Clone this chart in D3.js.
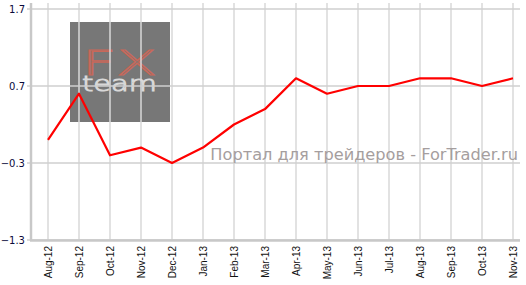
<!DOCTYPE html>
<html>
<head>
<meta charset="utf-8">
<script src="https://cdn.jsdelivr.net/npm/d3@7"></script>
<style>
  body { margin: 0; background: #fff; }
  svg { display: block; }
</style>
</head>
<body>
<div id="viz"></div>
<script>
const months = ['Aug-12', 'Sep-12', 'Oct-12', 'Nov-12', 'Dec-12', 'Jan-13', 'Feb-13', 'Mar-13',
  'Apr-13', 'May-13', 'Jun-13', 'Jul-13', 'Aug-13', 'Sep-13', 'Oct-13', 'Nov-13'];
const values = [0.0, 0.6, -0.2, -0.1, -0.3, -0.1, 0.2, 0.4, 0.8, 0.6, 0.7, 0.7, 0.8, 0.8, 0.7, 0.8];
const yTicks = [-1.3, -0.3, 0.7, 1.7];

const width = 526;
const height = 285;

const svg = d3.select('#viz')
  .append('svg')
  .attr('width', width)
  .attr('height', height);

const x = d3.scalePoint().domain(months).range([48, 513]);
const y = d3.scaleLinear().domain([-1.3, 1.7]).range([240, 9]);

// watermark logo (under the grid)
const logo = svg.append('g');
logo.append('rect')
  .attr('x', 70).attr('y', 22).attr('width', 100).attr('height', 100)
  .style('fill', '#777');
logo.append('text')
  .attr('x', 82).attr('y', 75)
  .attr('textLength', 75)
  .attr('lengthAdjust', 'spacingAndGlyphs')
  .style('font-family', 'DejaVu Sans, sans-serif')
  .style('font-size', '33px')
  .style('font-weight', '200')
  .style('fill', 'none')
  .style('stroke', '#c8685a')
  .style('stroke-width', 1.1)
  .text('FX');
logo.append('text')
  .attr('x', 82).attr('y', 91)
  .attr('textLength', 75)
  .attr('lengthAdjust', 'spacingAndGlyphs')
  .style('font-family', 'DejaVu Sans, sans-serif')
  .style('font-size', '21px')
  .style('font-weight', '200')
  .style('fill', 'none')
  .style('stroke', '#d8d8d8')
  .style('stroke-width', 1)
  .text('team');

// vertical grid
svg.append('g')
  .selectAll('line')
  .data(months)
  .enter()
  .append('line')
  .attr('x1', d => x(d))
  .attr('x2', d => x(d))
  .attr('y1', 3)
  .attr('y2', 240)
  .style('stroke', '#d8d8d8')
  .style('stroke-width', 1.5);

// horizontal grid + ticks
svg.append('g')
  .selectAll('line')
  .data(yTicks)
  .enter()
  .append('line')
  .attr('x1', 27)
  .attr('x2', 520)
  .attr('y1', d => y(d))
  .attr('y2', d => y(d))
  .style('stroke', '#cfcfcf')
  .style('stroke-width', 1.5);

// axes lines
svg.append('line')
  .attr('x1', 31).attr('x2', 31).attr('y1', 3).attr('y2', 241)
  .style('stroke', '#c8c8c8').style('stroke-width', 2.5);
svg.append('line')
  .attr('x1', 30).attr('x2', 520).attr('y1', 240.5).attr('y2', 240.5)
  .style('stroke', '#c8c8c8').style('stroke-width', 2.5);

// y labels
svg.append('g')
  .selectAll('text')
  .data(yTicks)
  .enter()
  .append('text')
  .attr('x', 25)
  .attr('y', d => y(d) + 4)
  .attr('text-anchor', 'end')
  .style('font-family', 'DejaVu Sans, Verdana, sans-serif')
  .style('font-size', '10px')
  .style('fill', '#0a0a3a')
  .text(d => d3.format('.1f')(d));

// x labels
svg.append('g')
  .selectAll('text')
  .data(months)
  .enter()
  .append('text')
  .attr('transform', d => `translate(${x(d) + 3.5},246) rotate(-90)`)
  .attr('text-anchor', 'end')
  .style('font-family', 'Liberation Sans, Arial, sans-serif')
  .style('font-size', '10px')
  .style('fill', '#111')
  .text(d => d);

// watermark text
svg.append('text')
  .attr('x', 518).attr('y', 160)
  .attr('text-anchor', 'end')
  .style('font-family', 'DejaVu Sans, Verdana, sans-serif')
  .style('font-size', '16.2px')
  .style('fill', '#a59e9e')
  .text('Портал для трейдеров - ForTrader.ru');

// series
const line = d3.line()
  .x((d, i) => x(months[i]))
  .y(d => y(d));

svg.append('path')
  .datum(values)
  .attr('d', line)
  .style('fill', 'none')
  .style('stroke', '#ff0000')
  .style('stroke-width', 2.2)
  .style('stroke-linejoin', 'round');
</script>
</body>
</html>
